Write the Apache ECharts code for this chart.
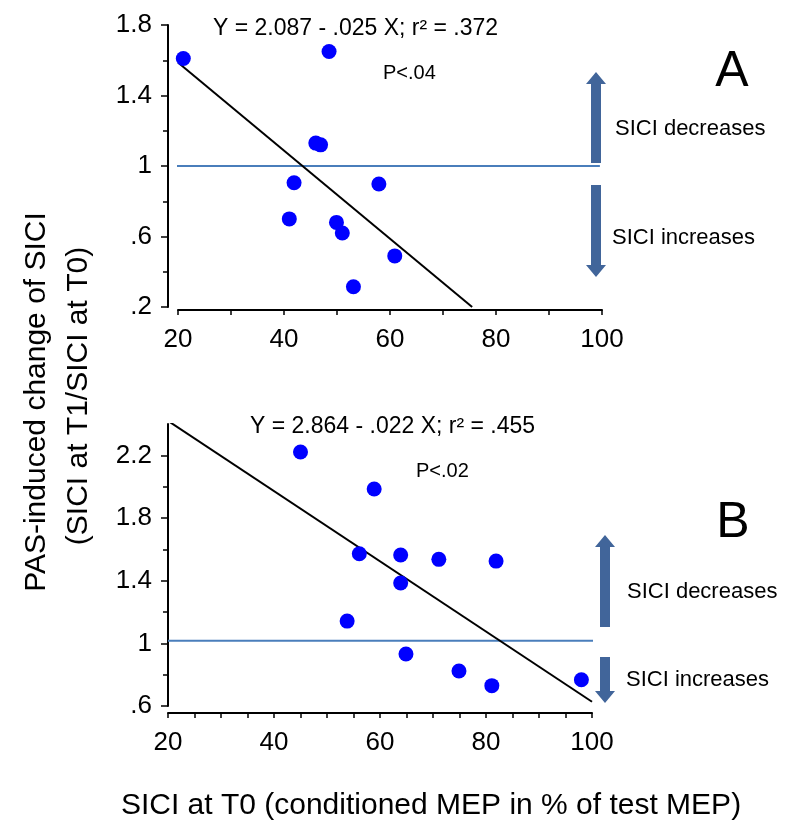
<!DOCTYPE html>
<html>
<head>
<meta charset="utf-8">
<script src="https://cdn.jsdelivr.net/npm/echarts@6/dist/echarts.min.js"></script>
<style>
html, body { margin: 0; padding: 0; background: #fff; }
#chart { width: 800px; height: 836px; }
</style>
</head>
<body>
<div id="chart"></div>
<script>
// panel A
var pointsA = [[21.0, 1.61], [48.5, 1.65], [46.0, 1.13], [46.9, 1.12], [41.9, 0.905], [57.9, 0.898],
  [41.0, 0.70], [49.9, 0.68], [51.0, 0.62], [60.9, 0.49], [53.1, 0.315]];
var fitA = [[20, 1.587], [75.5, 0.2]];
var refA = [[18.1, 1], [99.6, 1]];
// panel B
var pointsB = [[45.0, 2.221], [58.9, 1.985], [56.1, 1.572], [63.9, 1.564], [71.1, 1.536], [81.9, 1.525],
  [63.9, 1.385], [53.8, 1.142], [64.9, 0.932], [74.9, 0.823], [81.1, 0.730], [98.0, 0.768]];
var fitB = [[20, 2.42], [100, 0.627]];
var refB = [[20, 1.017], [103.4, 1.017]];
// ticks
var xTicks = [20, 40, 60, 80, 100];
var yTicksA = [0.2, 0.6, 1, 1.4, 1.8];
var yTicksB = [0.6, 1, 1.4, 1.8, 2.2];

var FONT = 'Liberation Sans, Arial, sans-serif';
var arrowColor = '#41659a';

function fmtY(v) {
  return String(Math.round(v * 10) / 10).replace(/^0\./, '.');
}

function xAxisCfg(idx, offset, minorSplit) {
  return {
    type: 'value', gridIndex: idx, min: xTicks[0], max: xTicks[xTicks.length - 1], interval: 20,
    offset: offset,
    axisLine: { lineStyle: { color: '#000', width: 2 } },
    axisTick: { length: 5, lineStyle: { color: '#000', width: 1.5 } },
    minorTick: { show: true, splitNumber: minorSplit, length: 5, lineStyle: { color: '#000', width: 1.5 } },
    splitLine: { show: false },
    axisLabel: { fontSize: 26, color: '#000', fontFamily: FONT, margin: 17 }
  };
}

function yAxisCfg(idx, ticks, max, offset) {
  return {
    type: 'value', gridIndex: idx, min: ticks[0], max: max, interval: 0.4,
    offset: offset,
    axisLine: { lineStyle: { color: '#000', width: 2 } },
    axisTick: { length: 7, customValues: ticks, lineStyle: { color: '#000', width: 1.5 } },
    minorTick: { show: true, splitNumber: 2, length: 5, lineStyle: { color: '#000', width: 1.5 } },
    splitLine: { show: false },
    axisLabel: { fontSize: 26, color: '#000', fontFamily: FONT, margin: 16, customValues: ticks, formatter: fmtY }
  };
}

// arrow polygon points (shaft + head), tip at yTip
function arrow(x, yBase, yTip) {
  var dir = yTip < yBase ? -1 : 1;
  var sw = 5, hw = 10, hl = 12;
  var yNeck = yTip - dir * hl;
  return {
    type: 'polygon',
    shape: { points: [[x - sw, yBase], [x + sw, yBase], [x + sw, yNeck], [x + hw, yNeck], [x, yTip],
      [x - hw, yNeck], [x - sw, yNeck]] },
    style: { fill: arrowColor }
  };
}

function txt(x, y, s, size, align, extra) {
  var o = {
    type: 'text', x: x, y: y,
    style: { text: s, font: size + 'px ' + FONT, fill: '#000', textAlign: align || 'left', textVerticalAlign: 'middle' }
  };
  if (extra) for (var k in extra) o[k] = extra[k];
  return o;
}

var chart = echarts.init(document.getElementById('chart'), null, { renderer: 'canvas' });

chart.setOption({
  animation: false,
  backgroundColor: '#fff',
  grid: [
    { left: 178, top: 25, width: 424, height: 282 },
    { left: 168, top: 424, width: 424, height: 282 }
  ],
  xAxis: [xAxisCfg(0, 3, 2), xAxisCfg(1, 7, 4)],
  yAxis: [yAxisCfg(0, yTicksA, 1.8, 10), yAxisCfg(1, yTicksB, 2.4, 0)],
  series: [
    { type: 'line', xAxisIndex: 0, yAxisIndex: 0, data: refA, showSymbol: false, clip: false,
      lineStyle: { color: '#4a7ebb', width: 2 }, z: 1 },
    { type: 'line', xAxisIndex: 0, yAxisIndex: 0, data: fitA, showSymbol: false,
      lineStyle: { color: '#000', width: 2 }, z: 2 },
    { type: 'scatter', xAxisIndex: 0, yAxisIndex: 0, data: pointsA, symbolSize: 15,
      itemStyle: { color: '#0000ff', opacity: 1 }, z: 3 },
    { type: 'line', xAxisIndex: 1, yAxisIndex: 1, data: refB, showSymbol: false, clip: false,
      lineStyle: { color: '#4a7ebb', width: 2 }, z: 1 },
    { type: 'line', xAxisIndex: 1, yAxisIndex: 1, data: fitB, showSymbol: false,
      lineStyle: { color: '#000', width: 2 }, z: 2 },
    { type: 'scatter', xAxisIndex: 1, yAxisIndex: 1, data: pointsB, symbolSize: 15,
      itemStyle: { color: '#0000ff', opacity: 1 }, z: 3 }
  ],
  graphic: [
    // panel A annotations
    txt(213, 29, 'Y = 2.087 - .025 X; r\u00b2 = .372', 23),
    txt(383, 73, 'P<.04', 20),
    txt(732, 72, 'A', 50, 'center'),
    arrow(596, 163, 72),
    arrow(596, 185, 277),
    txt(615, 129, 'SICI decreases', 22),
    txt(612, 238, 'SICI increases', 22),
    // panel B annotations
    txt(250, 427, 'Y = 2.864 - .022 X; r\u00b2 = .455', 23),
    txt(416, 471, 'P<.02', 20),
    txt(733, 523, 'B', 50, 'center'),
    arrow(605, 627, 535),
    arrow(605, 657, 703),
    txt(627, 592, 'SICI decreases', 22),
    txt(626, 680, 'SICI increases', 22),
    // shared axis titles
    txt(37, 402, 'PAS-induced change of SICI', 30, 'center', { rotation: Math.PI / 2 }),
    txt(79, 396, '(SICI at T1/SICI at T0)', 30, 'center', { rotation: Math.PI / 2 }),
    txt(431, 806, 'SICI at T0 (conditioned MEP in % of test MEP)', 30, 'center')
  ]
});
</script>
</body>
</html>
